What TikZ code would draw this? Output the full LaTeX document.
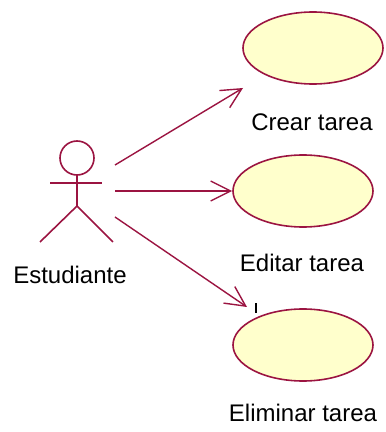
\documentclass[tikz,border=0pt]{standalone}
\usepackage{fontspec}
\setmainfont{Liberation Sans}
\usetikzlibrary{arrows.meta,shapes.geometric}
\definecolor{umlline}{RGB}{155,20,65}
\definecolor{umlfill}{RGB}{255,255,204}
\tikzset{%
usecase/.style={draw=umlline,fill=umlfill,ellipse,line width=1.6pt,
                minimum width=140pt,minimum height=72pt,inner sep=0pt},
caption/.style={font=\fontsize{24}{28}\selectfont,inner sep=0pt},
actorline/.style={draw=umlline,line width=1.6pt},
assoc/.style={draw=umlline,line width=1.4pt,-{Straight Barb[length=20pt,width=20pt]}}
}
\begin{document}
\begin{tikzpicture}[x=1pt,y=1pt]
\useasboundingbox (0,0) rectangle (386,432);
% casos de uso
\node[usecase] (crear)    at (313,384) {};
\node[usecase] (editar)   at (303,241) {};
\node[usecase] (eliminar) at (303,87)  {};
\node[caption] (crearlbl)    at (312,310) {Crear tarea};
\node[caption] (editarlbl)   at (302,169) {Editar tarea};
\node[caption] (eliminarlbl) at (303,19)  {Eliminar tarea};
% actor
\coordinate (actor) at (77,249);
\draw[actorline] ([yshift=25pt]actor) circle (17pt);
\draw[actorline] ([xshift=-27pt]actor) -- ([xshift=25pt]actor);
\draw[actorline] ([yshift=8pt]actor) -- ([yshift=-23pt]actor) coordinate (hip);
\draw[actorline] ([xshift=-37pt,yshift=-36pt]hip) -- (hip) -- ([xshift=36pt,yshift=-36pt]hip);
\node[caption] (estudiante) at (70,157) {Estudiante};
% asociaciones
\draw[assoc] ([xshift=38pt,yshift=18pt]actor)  -- ([xshift=-70pt,yshift=-40pt]crear.center);
\draw[assoc] ([xshift=38pt,yshift=-8pt]actor)  -- (editar.west);
\draw[assoc] ([xshift=38pt,yshift=-34pt]actor) -- ([xshift=-56pt,yshift=38pt]eliminar.center);
\draw[line width=1.4pt] ([xshift=-47pt,yshift=32pt]eliminar.center) -- ++(0,10pt);
\end{tikzpicture}
\end{document}
